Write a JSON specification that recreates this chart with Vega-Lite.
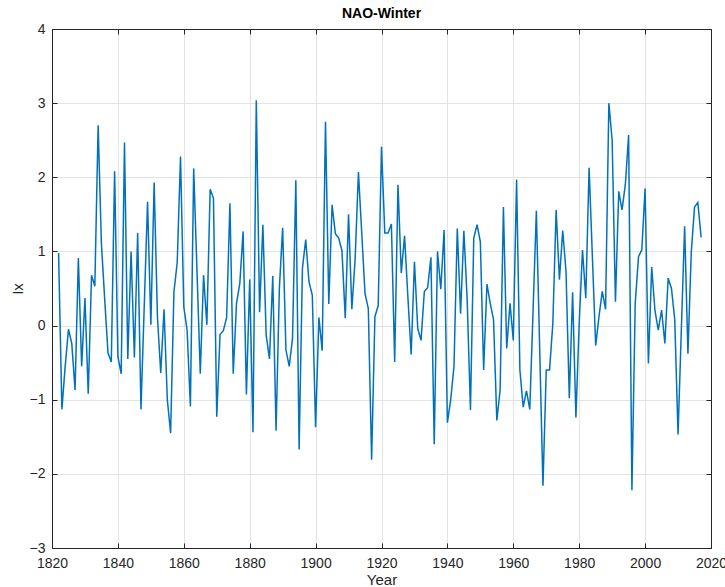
{
  "$schema": "https://vega.github.io/schema/vega-lite/v6.json",
  "width": 659,
  "height": 519,
  "autosize": {"type": "none"},
  "padding": {"left": 52, "top": 29, "right": 14, "bottom": 39},
  "background": "white",
  "title": {"text": "NAO-Winter", "fontSize": 14, "font": "Liberation Sans", "fontWeight": "bold", "color": "#000000", "offset": 1, "anchor": "middle", "frame": "group"},
  "config": {
    "view": {"stroke": "#262626", "strokeWidth": 1},
    "axis": {"labelFont": "Liberation Sans", "titleFont": "Liberation Sans", "labelFontSize": 14, "titleFontSize": 15, "labelColor": "#262626", "titleColor": "#262626", "titleFontWeight": "normal", "domainColor": "#262626", "tickColor": "#262626", "gridColor": "#e3e3e3", "gridWidth": 1, "gridOpacity": 1}
  },
  "data": {"values": [
    {"year":1822,"ix":0.98},{"year":1823,"ix":-1.13},{"year":1824,"ix":-0.55},{"year":1825,"ix":-0.05},{"year":1826,"ix":-0.24},{"year":1827,"ix":-0.87},{"year":1828,"ix":0.91},{"year":1829,"ix":-0.55},{"year":1830,"ix":0.37},{"year":1831,"ix":-0.92},{"year":1832,"ix":0.68},{"year":1833,"ix":0.53},{"year":1834,"ix":2.70},{"year":1835,"ix":1.1},{"year":1836,"ix":0.35},{"year":1837,"ix":-0.37},{"year":1838,"ix":-0.49},{"year":1839,"ix":2.08},{"year":1840,"ix":-0.42},{"year":1841,"ix":-0.65},{"year":1842,"ix":2.47},{"year":1843,"ix":-0.45},{"year":1844,"ix":1.00},{"year":1845,"ix":-0.43},{"year":1846,"ix":1.25},{"year":1847,"ix":-1.13},{"year":1848,"ix":0.27},{"year":1849,"ix":1.67},{"year":1850,"ix":0.01},{"year":1851,"ix":1.93},{"year":1852,"ix":0.12},{"year":1853,"ix":-0.64},{"year":1854,"ix":0.22},{"year":1855,"ix":-1.0},{"year":1856,"ix":-1.45},{"year":1857,"ix":0.45},{"year":1858,"ix":0.85},{"year":1859,"ix":2.28},{"year":1860,"ix":0.25},{"year":1861,"ix":-0.06},{"year":1862,"ix":-1.09},{"year":1863,"ix":2.12},{"year":1864,"ix":0.74},{"year":1865,"ix":-0.65},{"year":1866,"ix":0.68},{"year":1867,"ix":0.01},{"year":1868,"ix":1.84},{"year":1869,"ix":1.72},{"year":1870,"ix":-1.23},{"year":1871,"ix":-0.12},{"year":1872,"ix":-0.07},{"year":1873,"ix":0.11},{"year":1874,"ix":1.65},{"year":1875,"ix":-0.65},{"year":1876,"ix":0.30},{"year":1877,"ix":0.57},{"year":1878,"ix":1.27},{"year":1879,"ix":-0.93},{"year":1880,"ix":0.62},{"year":1881,"ix":-1.44},{"year":1882,"ix":3.04},{"year":1883,"ix":0.18},{"year":1884,"ix":1.36},{"year":1885,"ix":-0.13},{"year":1886,"ix":-0.45},{"year":1887,"ix":0.67},{"year":1888,"ix":-1.42},{"year":1889,"ix":0.5},{"year":1890,"ix":1.32},{"year":1891,"ix":-0.33},{"year":1892,"ix":-0.55},{"year":1893,"ix":-0.17},{"year":1894,"ix":1.96},{"year":1895,"ix":-1.67},{"year":1896,"ix":0.77},{"year":1897,"ix":1.16},{"year":1898,"ix":0.59},{"year":1899,"ix":0.41},{"year":1900,"ix":-1.37},{"year":1901,"ix":0.11},{"year":1902,"ix":-0.34},{"year":1903,"ix":2.75},{"year":1904,"ix":0.29},{"year":1905,"ix":1.63},{"year":1906,"ix":1.24},{"year":1907,"ix":1.18},{"year":1908,"ix":1.01},{"year":1909,"ix":0.1},{"year":1910,"ix":1.50},{"year":1911,"ix":0.22},{"year":1912,"ix":0.9},{"year":1913,"ix":2.07},{"year":1914,"ix":1.25},{"year":1915,"ix":0.43},{"year":1916,"ix":0.23},{"year":1917,"ix":-1.81},{"year":1918,"ix":0.12},{"year":1919,"ix":0.27},{"year":1920,"ix":2.41},{"year":1921,"ix":1.25},{"year":1922,"ix":1.25},{"year":1923,"ix":1.37},{"year":1924,"ix":-0.49},{"year":1925,"ix":1.90},{"year":1926,"ix":0.71},{"year":1927,"ix":1.21},{"year":1928,"ix":0.39},{"year":1929,"ix":-0.39},{"year":1930,"ix":0.86},{"year":1931,"ix":-0.04},{"year":1932,"ix":-0.20},{"year":1933,"ix":0.46},{"year":1934,"ix":0.51},{"year":1935,"ix":0.92},{"year":1936,"ix":-1.60},{"year":1937,"ix":1.00},{"year":1938,"ix":0.49},{"year":1939,"ix":1.29},{"year":1940,"ix":-1.31},{"year":1941,"ix":-1.0},{"year":1942,"ix":-0.55},{"year":1943,"ix":1.31},{"year":1944,"ix":0.16},{"year":1945,"ix":1.28},{"year":1946,"ix":0.35},{"year":1947,"ix":-1.14},{"year":1948,"ix":1.18},{"year":1949,"ix":1.36},{"year":1950,"ix":1.13},{"year":1951,"ix":-0.60},{"year":1952,"ix":0.56},{"year":1953,"ix":0.30},{"year":1954,"ix":0.08},{"year":1955,"ix":-1.28},{"year":1956,"ix":-0.87},{"year":1957,"ix":1.60},{"year":1958,"ix":-0.31},{"year":1959,"ix":0.30},{"year":1960,"ix":-0.20},{"year":1961,"ix":1.97},{"year":1962,"ix":-0.60},{"year":1963,"ix":-1.1},{"year":1964,"ix":-0.88},{"year":1965,"ix":-1.13},{"year":1966,"ix":0.2},{"year":1967,"ix":1.55},{"year":1968,"ix":-0.3},{"year":1969,"ix":-2.16},{"year":1970,"ix":-0.60},{"year":1971,"ix":-0.60},{"year":1972,"ix":0.03},{"year":1973,"ix":1.56},{"year":1974,"ix":0.62},{"year":1975,"ix":1.28},{"year":1976,"ix":0.73},{"year":1977,"ix":-0.98},{"year":1978,"ix":0.45},{"year":1979,"ix":-1.24},{"year":1980,"ix":0.03},{"year":1981,"ix":1.02},{"year":1982,"ix":0.37},{"year":1983,"ix":2.13},{"year":1984,"ix":0.93},{"year":1985,"ix":-0.27},{"year":1986,"ix":0.12},{"year":1987,"ix":0.46},{"year":1988,"ix":0.22},{"year":1989,"ix":3.00},{"year":1990,"ix":2.50},{"year":1991,"ix":0.32},{"year":1992,"ix":1.81},{"year":1993,"ix":1.56},{"year":1994,"ix":1.90},{"year":1995,"ix":2.57},{"year":1996,"ix":-2.22},{"year":1997,"ix":0.30},{"year":1998,"ix":0.93},{"year":1999,"ix":1.02},{"year":2000,"ix":1.85},{"year":2001,"ix":-0.51},{"year":2002,"ix":0.79},{"year":2003,"ix":0.20},{"year":2004,"ix":-0.06},{"year":2005,"ix":0.21},{"year":2006,"ix":-0.24},{"year":2007,"ix":0.64},{"year":2008,"ix":0.50},{"year":2009,"ix":0.08},{"year":2010,"ix":-1.47},{"year":2011,"ix":-0.05},{"year":2012,"ix":1.34},{"year":2013,"ix":-0.38},{"year":2014,"ix":0.98},{"year":2015,"ix":1.60},{"year":2016,"ix":1.66},{"year":2017,"ix":1.19}
  ]},
  "layer": [
    {
      "mark": {"type": "line", "color": "#0072BD", "strokeWidth": 1.5, "clip": true},
      "encoding": {
        "x": {"field": "year", "type": "quantitative", "scale": {"domain": [1820, 2020], "nice": false, "zero": false},
              "axis": {"title": "Year", "values": [1820,1840,1860,1880,1900,1920,1940,1960,1980,2000,2020], "format": "d", "grid": true, "tickSize": -5, "labelPadding": 13, "titlePadding": 2, "labelFlush": false, "labelOverlap": false}},
        "y": {"field": "ix", "type": "quantitative", "scale": {"domain": [-3, 4], "nice": false, "zero": false},
              "axis": {"title": "Ix", "values": [-3,-2,-1,0,1,2,3,4], "grid": true, "tickSize": -5, "labelPadding": 12, "titlePadding": 4, "labelFlush": false, "labelOverlap": false}}
      }
    },
    {
      "mark": {"type": "line", "strokeOpacity": 0},
      "encoding": {
        "x": {"field": "year", "type": "quantitative", "axis": {"orient": "top", "title": null, "labels": false, "grid": false, "tickSize": -5, "values": [1820,1840,1860,1880,1900,1920,1940,1960,1980,2000,2020]}},
        "y": {"field": "ix", "type": "quantitative", "axis": {"orient": "right", "title": null, "labels": false, "grid": false, "tickSize": -5, "values": [-3,-2,-1,0,1,2,3,4]}}
      }
    }
  ],
  "resolve": {"axis": {"x": "independent", "y": "independent"}}
}
